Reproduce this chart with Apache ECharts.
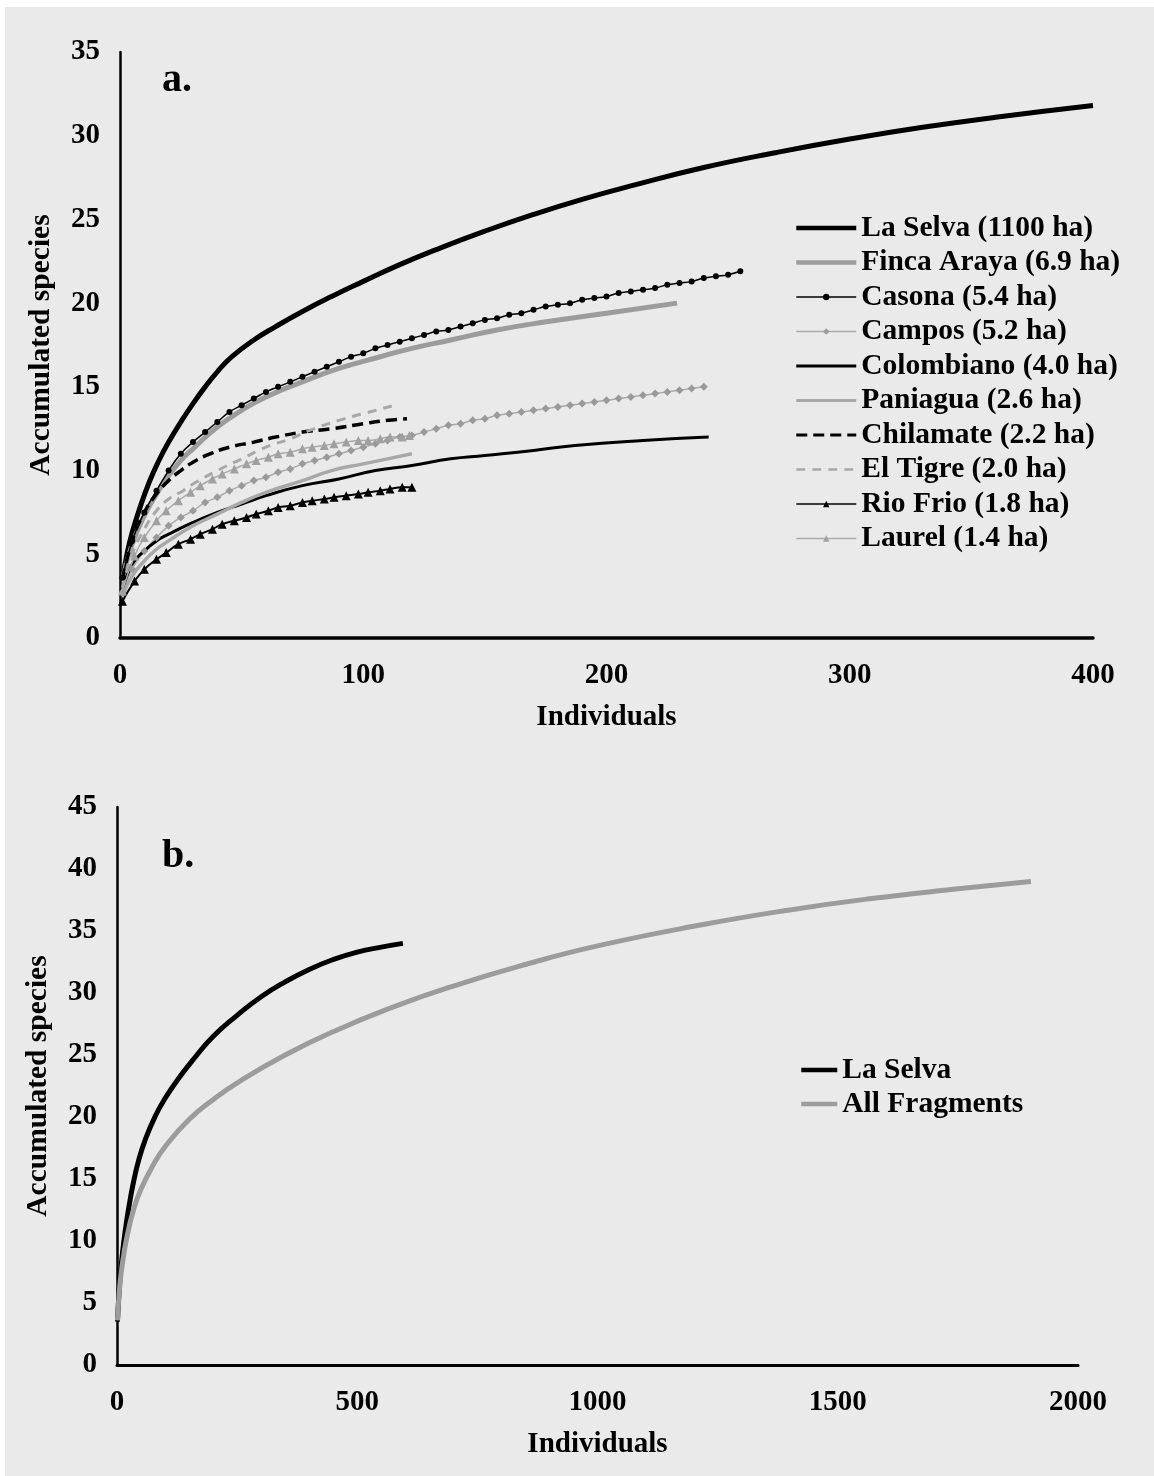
<!DOCTYPE html>
<html><head><meta charset="utf-8">
<script src="https://cdn.jsdelivr.net/npm/echarts/dist/echarts.min.js"></script>
<style>
html,body{margin:0;padding:0;background:#fff;}
#bg{position:absolute;left:5px;top:7px;width:1149px;height:1469px;background:#eaeaea;}
#chart{position:absolute;left:0;top:0;width:1154px;height:1476px;}
</style></head><body><div id="bg"></div><div id="chart"></div>
<script>
// ---------- Panel a ----------
const namesA = ['La Selva (1100 ha)','Finca Araya (6.9 ha)','Casona (5.4 ha)','Campos (5.2 ha)','Colombiano (4.0 ha)','Paniagua (2.6 ha)','Chilamate (2.2 ha)','El Tigre (2.0 ha)','Rio Frio (1.8 ha)','Laurel (1.4 ha)'];
const markedA = ['Casona (5.4 ha)','Campos (5.2 ha)','Rio Frio (1.8 ha)','Laurel (1.4 ha)'];
const xTicksA = [0,100,200,300,400];
const yTicksA = [0,5,10,15,20,25,30,35];

const laSelvaX = [1,3,5,8,12,16,20,25,30,35,40,46,55,64,75,87,100,115,130,150,170,190,210,240,270,300,330,360,400];
const laSelvaY = [3.5,5.1,6.3,7.7,9.3,10.6,11.7,12.9,14.0,15.0,15.9,16.8,17.8,18.6,19.5,20.4,21.3,22.3,23.2,24.3,25.3,26.2,27.0,28.1,29.0,29.8,30.5,31.1,31.8];

const fincaX = [1,5,10,15,20,25,30,40,50,60,75,90,107,120,136,155,176,200,229];
const fincaY = [3.5,5.6,7.3,8.6,9.7,10.6,11.3,12.6,13.6,14.4,15.3,16.1,16.8,17.3,17.8,18.4,18.9,19.4,20.0];

const casonaX = [1,5,10,15,20,25,30,35,40,45,50,55,60,65,70,75,80,85,90,95,100,105,110,115,120,125,130,135,140,145,150,155,160,165,170,175,180,185,190,195,200,205,210,215,220,225,230,235,240,245,250,255];
const casonaY = [3.6,5.8,7.5,8.8,10.0,11.0,11.7,12.3,12.9,13.5,13.9,14.3,14.7,15.0,15.3,15.6,15.9,16.2,16.5,16.8,17.0,17.3,17.5,17.7,17.9,18.1,18.3,18.4,18.6,18.8,19.0,19.1,19.3,19.4,19.6,19.8,19.9,20.0,20.2,20.3,20.4,20.6,20.7,20.8,20.9,21.1,21.2,21.3,21.5,21.6,21.7,21.9];

const camposX = [1,5,10,15,20,25,30,35,40,45,50,55,60,65,70,75,80,85,90,95,100,105,110,115,120,125,130,135,140,145,150,155,160,165,170,175,180,185,190,195,200,205,210,215,220,225,230,235,240];
const camposY = [2.7,4.1,5.2,6.0,6.7,7.2,7.6,8.1,8.4,8.8,9.1,9.4,9.6,9.9,10.1,10.4,10.6,10.8,11.0,11.2,11.4,11.6,11.8,12.0,12.1,12.3,12.5,12.7,12.8,13.0,13.1,13.3,13.4,13.5,13.6,13.7,13.8,13.9,14.0,14.1,14.2,14.3,14.4,14.5,14.6,14.7,14.8,14.9,15.0];

const colombX = [1,5,10,15,20,30,40,50,60,75,90,105,120,136,150,170,187,215,242];
const colombY = [2.8,4.4,5.2,5.8,6.2,6.9,7.5,8.0,8.5,9.1,9.5,10.0,10.3,10.7,10.9,11.2,11.5,11.8,12.0];

const paniX = [1,5,10,15,20,30,40,50,60,75,87,100,110,120];
const paniY = [2.5,3.7,4.6,5.3,5.8,6.7,7.4,8.1,8.7,9.4,10.0,10.4,10.7,11.0];

const chilaX = [1,5,10,15,20,25,30,37,45,55,64,75,87,100,110,118];
const chilaY = [3.5,5.8,7.5,8.6,9.4,10.0,10.5,11.0,11.4,11.7,12.0,12.3,12.5,12.8,13.0,13.1];

const tigreX = [1,5,10,15,20,26,30,40,50,60,70,78,90,100,113];
const tigreY = [3.0,5.0,6.5,7.6,8.3,8.8,9.2,10.0,10.7,11.4,11.9,12.4,13.0,13.4,13.9];

const rioX = [1,6,10,15,19,24,29,33,38,42,47,52,56,61,65,70,75,79,84,88,93,98,102,107,111,116,120];
const rioY = [2.2,3.4,4.1,4.7,5.1,5.6,5.9,6.2,6.5,6.8,7.0,7.2,7.4,7.6,7.8,7.9,8.1,8.2,8.3,8.4,8.5,8.6,8.7,8.8,8.9,9.0,9.0];

const laurelX = [1,6,10,15,19,24,29,33,38,42,47,52,56,61,65,70,75,79,84,88,93,98,102,107,111,116,119];
const laurelY = [2.8,4.9,6.0,7.0,7.6,8.2,8.7,9.1,9.5,9.8,10.1,10.4,10.6,10.8,11.0,11.1,11.3,11.4,11.5,11.6,11.7,11.8,11.8,11.9,12.0,12.0,12.1];

// ---------- Panel b ----------
const namesB = ['La Selva','All Fragments'];
const xTicksB = [0,500,1000,1500,2000];
const yTicksB = [0,5,10,15,20,25,30,35,40,45];

const selvaBX = [1,5,10,15,20,25,33,45,60,80,100,128,160,200,250,300,350,400,450,500,550,595];
const selvaBY = [3.5,6.3,8.5,10.2,11.6,12.8,14.5,16.5,18.3,20.1,21.5,23.1,24.7,26.5,28.2,29.7,30.9,31.9,32.7,33.3,33.7,34.0];

const allFragX = [1,5,10,20,35,50,75,100,150,200,260,350,451,570,695,850,1000,1217,1400,1566,1750,1902];
const allFragY = [3.6,6.0,7.8,10.2,12.6,14.2,16.1,17.6,19.8,21.4,23.0,25.0,26.9,28.8,30.5,32.3,33.8,35.5,36.7,37.6,38.4,39.0];

// ---------- build ----------
const zip = (xs, ys) => xs.map((x, i) => [x, ys[i]]);
const FONT = 'Liberation Serif';
const txt = (size) => ({fontFamily: FONT, fontWeight: 'bold', fontSize: size, color: '#000'});

function lineSeries(name, xs, ys, axis, o) {
  return Object.assign({
    type: 'line', name, data: zip(xs, ys), xAxisIndex: axis, yAxisIndex: axis,
    smooth: 0.5, symbol: 'none', silent: true
  }, o);
}

const series = [
  lineSeries(namesA[0], laSelvaX, laSelvaY, 0, {lineStyle:{color:'#000',width:5}, itemStyle:{color:'#000'}}),
  lineSeries(namesA[1], fincaX, fincaY, 0, {lineStyle:{color:'#9c9c9c',width:5}, itemStyle:{color:'#9c9c9c'}}),
  lineSeries(namesA[2], casonaX, casonaY, 0, {symbol:'circle', symbolSize:6, lineStyle:{color:'#000',width:1.5}, itemStyle:{color:'#000'}}),
  lineSeries(namesA[3], camposX, camposY, 0, {symbol:'diamond', symbolSize:8, lineStyle:{color:'#aaa',width:1.5}, itemStyle:{color:'#9a9a9a'}}),
  lineSeries(namesA[4], colombX, colombY, 0, {lineStyle:{color:'#000',width:3}, itemStyle:{color:'#000'}}),
  lineSeries(namesA[5], paniX, paniY, 0, {lineStyle:{color:'#a8a8a8',width:3.5}, itemStyle:{color:'#a8a8a8'}}),
  lineSeries(namesA[6], chilaX, chilaY, 0, {lineStyle:{color:'#000',width:3.5,type:[11,6]}, itemStyle:{color:'#000'}}),
  lineSeries(namesA[7], tigreX, tigreY, 0, {lineStyle:{color:'#a8a8a8',width:3,type:[9,7]}, itemStyle:{color:'#a8a8a8'}}),
  lineSeries(namesA[8], rioX, rioY, 0, {symbol:'triangle', symbolSize:9, lineStyle:{color:'#000',width:2}, itemStyle:{color:'#000'}}),
  lineSeries(namesA[9], laurelX, laurelY, 0, {symbol:'triangle', symbolSize:9, lineStyle:{color:'#aaa',width:1.5}, itemStyle:{color:'#a0a0a0'}}),
  lineSeries(namesB[0], selvaBX, selvaBY, 1, {lineStyle:{color:'#000',width:5}, itemStyle:{color:'#000'}}),
  lineSeries(namesB[1], allFragX, allFragY, 1, {lineStyle:{color:'#9c9c9c',width:5}, itemStyle:{color:'#9c9c9c'}})
];

function xAxis(idx, ticks, lw) {
  return {
    type:'value', gridIndex: idx, min: ticks[0], max: ticks[ticks.length-1], interval: ticks[1]-ticks[0],
    name:'Individuals', nameLocation:'middle', nameGap: 65, nameTextStyle: txt(29),
    axisLine:{show:true, onZero:false, lineStyle:{color:'#000', width:lw}},
    axisTick:{show:false}, splitLine:{show:false},
    axisLabel: Object.assign({margin: 23, formatter: v => String(v)}, txt(29))
  };
}
function yAxis(idx, ticks) {
  return {
    type:'value', gridIndex: idx, min: ticks[0], max: ticks[ticks.length-1], interval: ticks[1]-ticks[0],
    name:'Accumulated species', nameLocation:'middle', nameGap: 64, nameRotate: 90, nameTextStyle: txt(29.5),
    axisLine:{show:true, onZero:false, lineStyle:{color:'#000', width:2.5}},
    axisTick:{show:false}, splitLine:{show:false},
    axisLabel: Object.assign({margin: 20}, txt(29))
  };
}
// legend icon line widths (drawing only)
const legendLineW = {'La Selva (1100 ha)':4.5,'Finca Araya (6.9 ha)':4.5,'Casona (5.4 ha)':1.5,'Campos (5.2 ha)':1.5,'Colombiano (4.0 ha)':3,'Paniagua (2.6 ha)':3,'Chilamate (2.2 ha)':3,'El Tigre (2.0 ha)':2.5,'Rio Frio (1.8 ha)':1.5,'Laurel (1.4 ha)':1.5,'La Selva':4.5,'All Fragments':4.5};
const legendItems = (names, marked) => names.map(n => {
  const it = {name: n, lineStyle: {width: legendLineW[n]}};
  if (marked.indexOf(n) < 0) it.itemStyle = {opacity: 0};
  return it;
});

const option = {
  animation: false,
  backgroundColor: 'transparent',
  title: [
    {text:'a.', left:162, top:61, padding:0, textStyle: txt(40)},
    {text:'b.', left:162, top:837, padding:0, textStyle: txt(40)}
  ],
  grid: [
    {left:120, right:61, top:52, bottom:838, containLabel:false},
    {left:117, right:76, top:807, bottom:111, containLabel:false}
  ],
  xAxis: [xAxis(0, xTicksA, 3.5), xAxis(1, xTicksB, 3)],
  yAxis: [yAxis(0, yTicksA), yAxis(1, yTicksB)],
  legend: [
    {data: legendItems(namesA, markedA), orient:'vertical', left:794, top:213, itemWidth:60, itemHeight:8, itemGap:4.5,
     padding:0, selectedMode:false, textStyle: Object.assign({lineHeight:30}, txt(29.5))},
    {data: legendItems(namesB, []), orient:'vertical', left:799, top:1055, itemWidth:36, itemHeight:8, itemGap:4,
     padding:0, selectedMode:false, textStyle: Object.assign({lineHeight:30}, txt(29.5))}
  ],
  series
};

const chart = echarts.init(document.getElementById('chart'), null, {renderer:'canvas'});
chart.setOption(option);
</script></body></html>
